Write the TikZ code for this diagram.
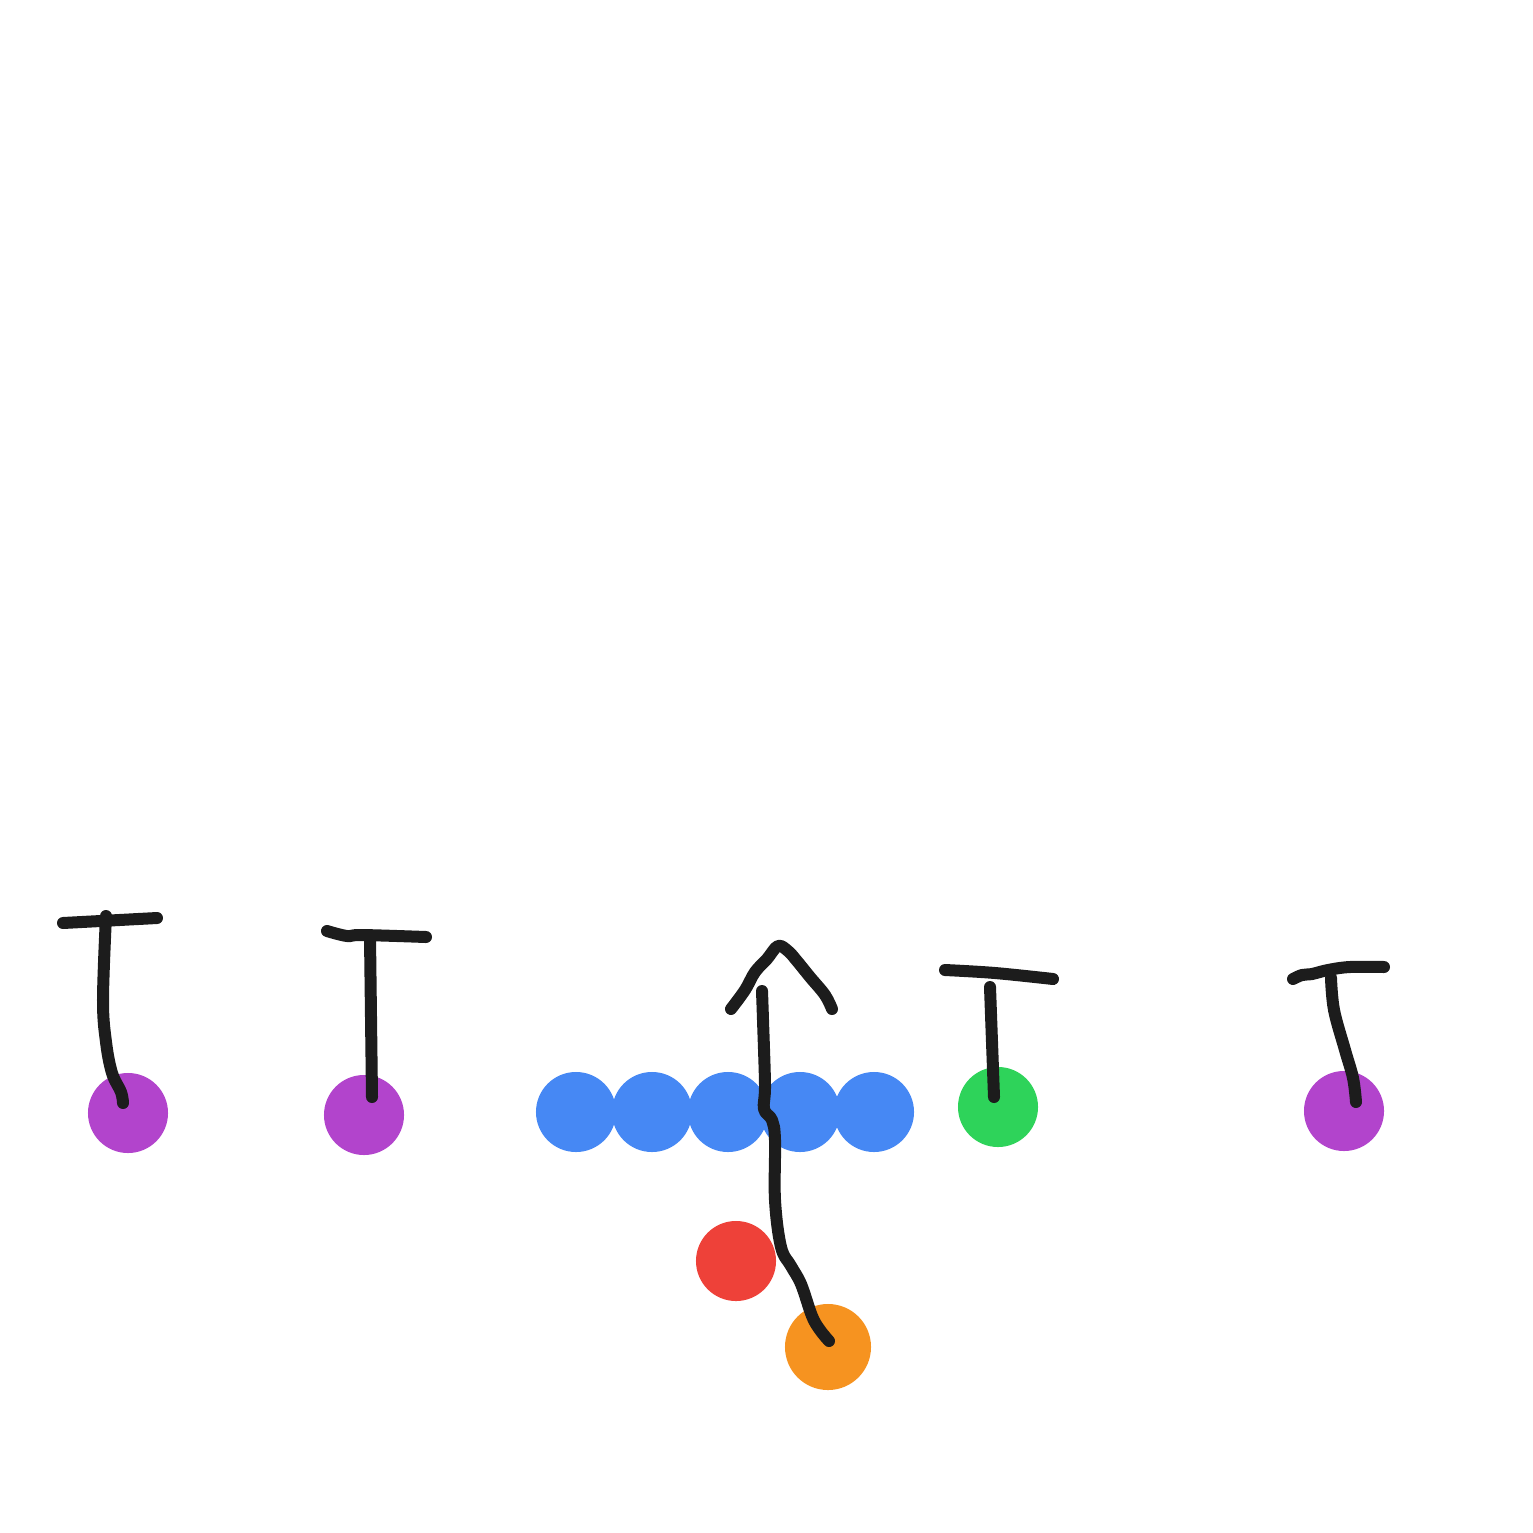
\documentclass[tikz,border=0pt]{standalone}
\definecolor{wrpurple}{RGB}{178,68,204}
\definecolor{olblue}{RGB}{70,136,244}
\definecolor{tegreen}{RGB}{46,211,90}
\definecolor{qbred}{RGB}{238,65,57}
\definecolor{rborange}{RGB}{246,147,32}
\definecolor{ink}{RGB}{28,28,28}
\begin{document}
\begin{tikzpicture}[x=0.01cm,y=-0.01cm,
  player/.style={circle,inner sep=0pt,minimum size=0.8cm,fill=#1},
  route/.style={ink,line width=0.12cm,line cap=round,line join=round}]
\useasboundingbox (0,0) rectangle (1533,1533);
% players
\node[player=wrpurple](wra) at (128,1113){};
\node[player=wrpurple](wrb) at (364,1115){};
\foreach \x/\n in {576/lt,652/lg,728/c,800/rg,874/rt}
  \node[player=olblue](\n) at (\x,1112){};
\node[player=tegreen](te) at (998,1107){};
\node[player=wrpurple](wrc) at (1344,1111){};
\node[player=qbred](qb) at (736,1261){};
\node[player=rborange,minimum size=0.86cm](rb) at (828,1347){};
% routes
\draw[route] plot[smooth,tension=0.6] coordinates {(123,1103)(121,1092)(112,1073)(106,1042)(103,1000)(106,916)};
\draw[route] (63,923)--(157,918);
\draw[route] (372,1097)--(370,937);
\draw[route] plot[smooth,tension=0.6] coordinates {(327,931)(347,936)(362,935)(426,937)};
\draw[route] (994,1097)--(990,987);
\draw[route] plot[smooth,tension=0.6] coordinates {(945,970)(995,973)(1053,979)};
\draw[route] plot[smooth,tension=0.6] coordinates {(1356,1102)(1353,1078)(1345,1050)(1334,1010)(1331,978)};
\draw[route] plot[smooth,tension=0.6] coordinates {(1293,979)(1302,975)(1312,974)(1328,970)(1350,967)(1384,967)};
% run up the middle
\draw[route] plot[smooth,tension=0.6] coordinates {(829,1341)(820,1330)(812,1316)(801,1284)(791,1266)(781,1247)(775,1200)(775,1140)(772,1120)(764,1109)(765,1085)(763,1020)(762,991)};
\draw[route] plot[smooth,tension=0.6] coordinates {(731,1009)(745,990)(755,972)(767,959)(778,946)(788,951)(797,961)(810,977)(825,995)(832,1009)};
\end{tikzpicture}
\end{document}
